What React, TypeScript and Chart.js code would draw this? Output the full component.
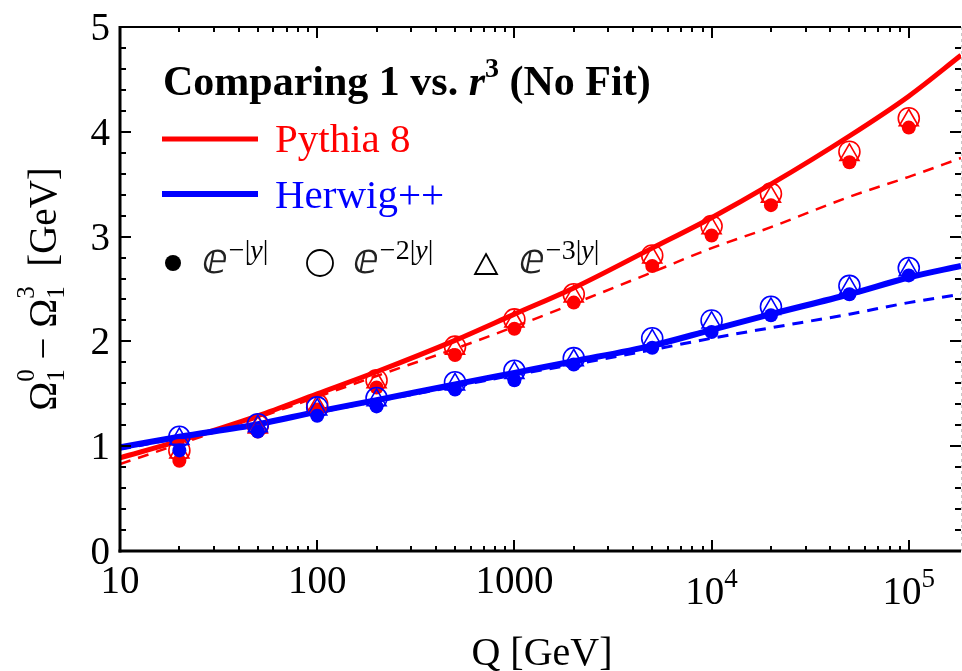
import React, { useEffect, useRef } from 'react';
import { Chart, registerables } from 'chart.js';

Chart.register(...registerables);

const W = 962;
const H = 671;
const SERIF = '"Liberation Serif", "Times New Roman", "DejaVu Serif", serif';

// ---------- data ----------
const Q_DATA = [20, 50, 100, 200, 500, 1000, 2000, 5000, 10000, 20000, 50000, 100000];

// Pythia 8 points: e^{-|y|} (filled), e^{-2|y|} (circle), e^{-3|y|} (triangle)
const PYTHIA_E1 = [0.86, 1.14, 1.35, 1.56, 1.87, 2.12, 2.37, 2.72, 3.01, 3.30, 3.71, 4.04];
const PYTHIA_E2 = [0.96, 1.20, 1.40, 1.63, 1.95, 2.21, 2.45, 2.82, 3.10, 3.41, 3.81, 4.13];
const PYTHIA_E3 = [0.94, 1.18, 1.38, 1.61, 1.93, 2.19, 2.43, 2.80, 3.08, 3.38, 3.78, 4.11];

// Herwig++ points
const HERWIG_E1 = [0.96, 1.14, 1.29, 1.38, 1.54, 1.63, 1.78, 1.94, 2.09, 2.25, 2.45, 2.63];
const HERWIG_E2 = [1.09, 1.21, 1.37, 1.46, 1.61, 1.72, 1.84, 2.03, 2.20, 2.33, 2.53, 2.70];
const HERWIG_E3 = [1.07, 1.19, 1.35, 1.44, 1.59, 1.70, 1.82, 2.01, 2.18, 2.31, 2.51, 2.68];

// Curves
const Q_CURVE = [10, 20, 50, 100, 200, 500, 1000, 2000, 5000, 10000, 20000, 50000, 100000, 184000];
const PYTHIA_SOLID = [0.89, 1.05, 1.29, 1.50, 1.71, 2.01, 2.26, 2.51, 2.89, 3.18, 3.50, 3.96, 4.34, 4.73];
const PYTHIA_DASHED = [0.83, 1.02, 1.27, 1.47, 1.67, 1.93, 2.14, 2.36, 2.66, 2.89, 3.09, 3.38, 3.57, 3.75];
const HERWIG_SOLID = [0.99, 1.09, 1.21, 1.33, 1.44, 1.59, 1.70, 1.81, 1.96, 2.11, 2.26, 2.45, 2.61, 2.72];
const HERWIG_DASHED = [0.97, 1.08, 1.21, 1.32, 1.43, 1.57, 1.68, 1.78, 1.92, 2.03, 2.13, 2.26, 2.37, 2.45];

// Axes
const X_MIN = 10;
const X_MAX = 184000;
const Y_MIN = 0;
const Y_MAX = 5;
const Y_TICKS = [0, 1, 2, 3, 4, 5];
const Y_TICK_LABELS = ['0', '1', '2', '3', '4', '5'];
const X_TICKS = [10, 100, 1000, 10000, 100000];
const X_TICK_BASE = ['10', '100', '1000', '10', '10'];
const X_TICK_EXP = ['', '', '', '4', '5'];

const RED = '#ff0000';
const BLUE = '#0000ff';

// ---------- helpers ----------
type Run = { t: string; font: string; dy?: number; noAdvance?: boolean };

function runsWidth(ctx: CanvasRenderingContext2D, runs: Run[]) {
  let w = 0;
  for (const r of runs) {
    ctx.font = r.font;
    if (!r.noAdvance) w += ctx.measureText(r.t).width;
  }
  return w;
}

function drawRuns(ctx: CanvasRenderingContext2D, runs: Run[], x: number, y: number) {
  let cx = x;
  for (const r of runs) {
    ctx.font = r.font;
    ctx.fillText(r.t, cx, y + (r.dy || 0));
    if (!r.noAdvance) cx += ctx.measureText(r.t).width;
  }
  return cx;
}

function seg(ctx: CanvasRenderingContext2D, x1: number, y1: number, x2: number, y2: number) {
  ctx.beginPath();
  ctx.moveTo(x1, y1);
  ctx.lineTo(x2, y2);
  ctx.stroke();
}

const decorPlugin = {
  id: 'decor',
  afterDatasetsDraw(chart: any) {
    const { ctx, chartArea: ca, scales } = chart;
    const xs = scales.x;
    const ys = scales.y;
    ctx.save();
    ctx.strokeStyle = '#000';
    ctx.fillStyle = '#000';
    ctx.lineCap = 'butt';

    // frame
    ctx.lineWidth = 3;
    seg(ctx, ca.left, ca.top - 1, ca.left, ca.bottom + 1.5);
    seg(ctx, ca.left - 1.5, ca.bottom, ca.right, ca.bottom);
    ctx.lineWidth = 2;
    seg(ctx, ca.left, ca.top, ca.right, ca.top);
    ctx.save();
    ctx.strokeStyle = '#c8c8c8';
    ctx.lineWidth = 1;
    ctx.setLineDash([3, 3]);
    seg(ctx, ca.right + 0.5, ca.top, ca.right + 0.5, ca.bottom);
    ctx.restore();

    // y ticks (left and right)
    ctx.lineWidth = 2;
    for (let v = Y_MIN; v <= Y_MAX + 1e-9; v += 0.2) {
      const py = Math.round(ys.getPixelForValue(v));
      const major = Math.abs(v - Math.round(v)) < 1e-6;
      const len = major ? 11 : 6;
      seg(ctx, ca.left, py, ca.left + len, py);
      seg(ctx, ca.right, py, ca.right - len, py);
    }
    // x ticks (bottom and top)
    for (let d = 10; d <= X_MAX; d *= 10) {
      for (let m = 1; m <= 9; m++) {
        const v = d * m;
        if (v < X_MIN || v > X_MAX) continue;
        const px = Math.round(xs.getPixelForValue(v));
        const len = m === 1 ? 11 : 5;
        seg(ctx, px, ca.bottom, px, ca.bottom - len);
        seg(ctx, px, ca.top, px, ca.top + len);
      }
    }

    // y tick labels
    ctx.font = `39px ${SERIF}`;
    ctx.textAlign = 'right';
    ctx.textBaseline = 'alphabetic';
    Y_TICKS.forEach((v, i) => {
      const py = ys.getPixelForValue(v);
      ctx.fillText(Y_TICK_LABELS[i], 110, py + 13);
    });

    // x tick labels
    ctx.textAlign = 'left';
    X_TICKS.forEach((v, i) => {
      const px = xs.getPixelForValue(v);
      const runs: Run[] = [{ t: X_TICK_BASE[i], font: `39px ${SERIF}` }];
      let base = 593;
      if (X_TICK_EXP[i]) {
        runs.push({ t: X_TICK_EXP[i], font: `27px ${SERIF}`, dy: -17 });
        base = 604;
      }
      const w = runsWidth(ctx, runs);
      drawRuns(ctx, runs, px - w / 2, base);
    });

    // x title
    {
      const runs: Run[] = [{ t: 'Q [GeV]', font: `40px ${SERIF}` }];
      const w = runsWidth(ctx, runs);
      drawRuns(ctx, runs, 542 - w / 2, 665);
    }

    // y title (rotated)
    {
      const big = `39px ${SERIF}`;
      const small = `25px ${SERIF}`;
      const runs: Run[] = [
        { t: 'Ω', font: big },
        { t: '0', font: small, dy: -22, noAdvance: true },
        { t: '1', font: small, dy: 8 },
        { t: ' − ', font: big },
        { t: 'Ω', font: big },
        { t: '3', font: small, dy: -22, noAdvance: true },
        { t: '1', font: small, dy: 8 },
        { t: '  [GeV]', font: big },
      ];
      ctx.save();
      ctx.translate(56, (ca.top + ca.bottom) / 2);
      ctx.rotate(-Math.PI / 2);
      const w = runsWidth(ctx, runs);
      drawRuns(ctx, runs, -w / 2, 0);
      ctx.restore();
    }

    // legend
    {
      ctx.textAlign = 'left';
      ctx.fillStyle = '#000';
      drawRuns(
        ctx,
        [
          { t: 'Comparing 1 vs. ', font: `bold 42px ${SERIF}` },
          { t: 'r', font: `italic bold 42px ${SERIF}` },
          { t: '3', font: `bold 28px ${SERIF}`, dy: -18 },
          { t: ' (No Fit)', font: `bold 42px ${SERIF}` },
        ],
        163,
        95
      );
      ctx.lineWidth = 5;
      ctx.strokeStyle = RED;
      seg(ctx, 162, 139, 258, 139);
      ctx.lineWidth = 6;
      ctx.strokeStyle = BLUE;
      seg(ctx, 162, 194, 258, 194);
      ctx.fillStyle = RED;
      drawRuns(ctx, [{ t: 'Pythia 8', font: `41px ${SERIF}` }], 275, 152);
      ctx.fillStyle = BLUE;
      drawRuns(ctx, [{ t: 'Herwig++', font: `41px ${SERIF}` }], 275, 208);

      // marker row
      ctx.fillStyle = '#000';
      ctx.strokeStyle = '#000';
      ctx.beginPath();
      ctx.arc(173, 263, 8, 0, Math.PI * 2);
      ctx.fill();
      ctx.lineWidth = 1.8;
      ctx.beginPath();
      ctx.arc(320, 263, 13, 0, Math.PI * 2);
      ctx.stroke();
      ctx.beginPath();
      ctx.moveTo(486, 254);
      ctx.lineTo(497, 274);
      ctx.lineTo(475, 274);
      ctx.closePath();
      ctx.stroke();

      const eFont = `italic 42px "DejaVu Serif", "DejaVu Sans", ${SERIF}`;
      const sup = `28px ${SERIF}`;
      const supI = `italic 28px ${SERIF}`;
      const exps: [string, number][] = [['−|', 202], ['−2|', 353], ['−3|', 519]];
      exps.forEach(([a, x0]) => {
        ctx.fillStyle = '#222';
        ctx.font = eFont;
        ctx.fillText('ⅇ', x0, 273);
        const ew = ctx.measureText('ⅇ').width;
        ctx.fillStyle = '#000';
        drawRuns(
          ctx,
          [
            { t: a, font: sup },
            { t: 'y', font: supI },
            { t: '|', font: sup },
          ],
          x0 + ew + 1,
          259
        );
      });
    }
    ctx.restore();
  },
};

function pts(xsArr: number[], ysArr: number[]) {
  return xsArr.map((x, i) => ({ x, y: ysArr[i] }));
}

export default function App() {
  const ref = useRef<HTMLCanvasElement | null>(null);
  useEffect(() => {
    if (!ref.current) return;
    const lineBase = { pointRadius: 0, pointHoverRadius: 0, fill: false, cubicInterpolationMode: 'monotone' as const };
    const markerBase = { showLine: false, pointHoverRadius: 0 };
    const chart = new Chart(ref.current, {
      type: 'line',
      data: {
        datasets: [
          { ...lineBase, data: pts(Q_CURVE, PYTHIA_DASHED), borderColor: RED, borderWidth: 2.5, borderDash: [11, 8], order: 5 },
          { ...lineBase, data: pts(Q_CURVE, HERWIG_DASHED), borderColor: BLUE, borderWidth: 3, borderDash: [11, 8], order: 5 },
          { ...lineBase, data: pts(Q_CURVE, PYTHIA_SOLID), borderColor: RED, borderWidth: 5, order: 4 },
          { ...lineBase, data: pts(Q_CURVE, HERWIG_SOLID), borderColor: BLUE, borderWidth: 6, order: 3 },
          { ...markerBase, data: pts(Q_DATA, PYTHIA_E1), pointStyle: 'circle', pointRadius: 7, backgroundColor: RED, borderColor: RED, borderWidth: 0, order: 2 },
          { ...markerBase, data: pts(Q_DATA, PYTHIA_E2), pointStyle: 'circle', pointRadius: 10.5, backgroundColor: 'rgba(0,0,0,0)', borderColor: RED, borderWidth: 1.6, order: 2 },
          { ...markerBase, data: pts(Q_DATA, PYTHIA_E3), pointStyle: 'triangle', pointRadius: 11, backgroundColor: 'rgba(0,0,0,0)', borderColor: RED, borderWidth: 1.6, order: 2 },
          { ...markerBase, data: pts(Q_DATA, HERWIG_E1), pointStyle: 'circle', pointRadius: 7, backgroundColor: BLUE, borderColor: BLUE, borderWidth: 0, order: 1 },
          { ...markerBase, data: pts(Q_DATA, HERWIG_E2), pointStyle: 'circle', pointRadius: 10.5, backgroundColor: 'rgba(0,0,0,0)', borderColor: BLUE, borderWidth: 1.6, order: 1 },
          { ...markerBase, data: pts(Q_DATA, HERWIG_E3), pointStyle: 'triangle', pointRadius: 11, backgroundColor: 'rgba(0,0,0,0)', borderColor: BLUE, borderWidth: 1.6, order: 1 },
        ],
      },
      options: {
        animation: false,
        responsive: false,
        maintainAspectRatio: false,
        devicePixelRatio: 1,
        layout: { autoPadding: false, padding: { left: 120, top: 27, right: 1, bottom: 120 } },
        plugins: { legend: { display: false }, tooltip: { enabled: false } },
        events: [],
        scales: {
          x: { type: 'logarithmic', min: X_MIN, max: X_MAX, display: false },
          y: { type: 'linear', min: Y_MIN, max: Y_MAX, display: false },
        },
      },
      plugins: [decorPlugin],
    });
    return () => chart.destroy();
  }, []);
  return (
    <div style={{ position: 'absolute', left: 0, top: 0, width: W, height: H, background: '#fff' }}>
      <canvas ref={ref} width={W} height={H} style={{ display: 'block', width: W, height: H }} />
    </div>
  );
}
